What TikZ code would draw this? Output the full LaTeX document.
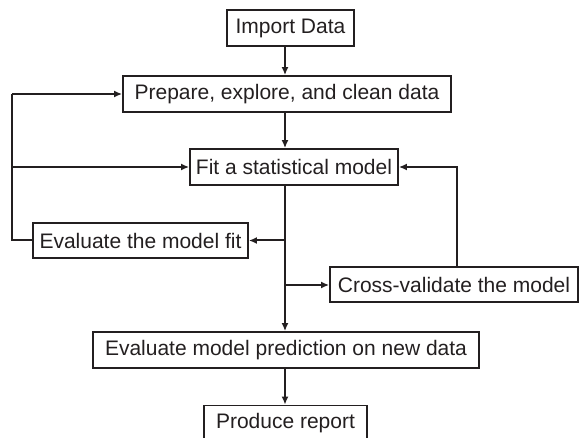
\documentclass[tikz,border=0pt]{standalone}
\usepackage{fontspec}
\setmainfont{Liberation Sans}
\usetikzlibrary{arrows.meta}
\definecolor{ink}{HTML}{231F20}
\begin{document}
\begin{tikzpicture}[x=1pt,y=-1pt,
  box/.style={draw=ink,line width=1.8pt,text=ink,inner sep=0pt,minimum height=36pt,font=\fontsize{21}{24}\selectfont},
  conn/.style={draw=ink,line width=2pt},
  arr/.style={conn,-{Latex[length=8pt,width=7pt]}}]
\useasboundingbox (0,0) rectangle (579,438);
\clip (0,0) rectangle (579,438);
\node[box,minimum width=127pt] (imp) at (290.5,28) {Import Data};
\node[box,minimum width=328pt] (prep) at (287,94) {Prepare, explore, and clean data};
\node[box,minimum width=208pt] (fit) at (294,167) {Fit a statistical model};
\node[box,minimum width=215pt,minimum height=35pt] (evfit) at (140.5,240.5) {Evaluate the model fit};
\node[box,minimum width=248pt,minimum height=35pt] (cross) at (454,284.5) {Cross-validate the model};
\node[box,minimum width=386pt] (evpred) at (286,350) {Evaluate model prediction on new data};
\node[box,minimum width=163pt] (rep) at (285.5,423.5) {Produce report};
\coordinate (m) at (285,0);
\coordinate (l) at (12,0);
\coordinate (r) at (457,0);
\coordinate (b1) at (285,240.5);
\coordinate (b2) at (285,285);
\draw[arr] (imp.south -| m) -- (prep.north -| m);
\draw[arr] (prep.south -| m) -- (fit.north -| m);
\draw[arr] (fit.south -| m) -- (evpred.north -| m);
\draw[arr] (b1) -- (evfit.east);
\draw[arr] (b2) -- (b2 -| cross.west);
\draw[arr] (cross.north -| r) -- (fit.east -| r) -- (fit.east);
\draw[conn] (evfit.west) -- (evfit.west -| l) -- (prep.west -| l);
\draw[arr] (prep.west -| l) -- (prep.west);
\draw[arr] (fit.west -| l) -- (fit.west);
\draw[arr] (evpred.south -| m) -- (rep.north -| m);
\end{tikzpicture}
\end{document}
